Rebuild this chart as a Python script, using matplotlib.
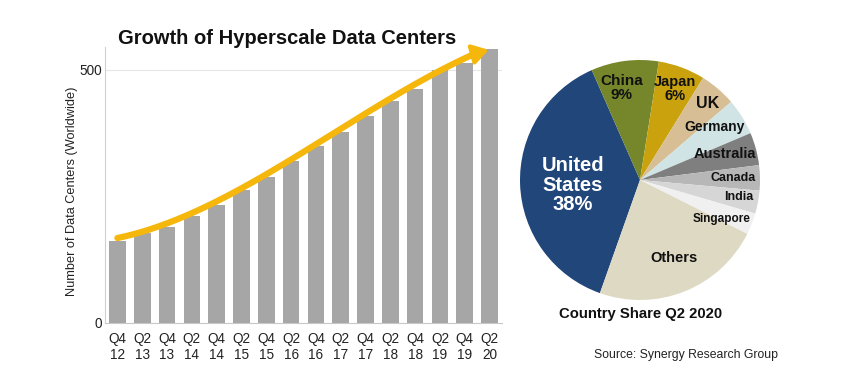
import numpy as np
import matplotlib
matplotlib.use("Agg")
import matplotlib.pyplot as plt

plt.rcParams['font.family'] = ['Liberation Sans', 'DejaVu Sans']

# ---- data ----
quarters = ["Q4\n12", "Q2\n13", "Q4\n13", "Q2\n14", "Q4\n14", "Q2\n15", "Q4\n15", "Q2\n16",
            "Q4\n16", "Q2\n17", "Q4\n17", "Q2\n18", "Q4\n18", "Q2\n19", "Q4\n19", "Q2\n20"]
dc_counts = [162, 177, 190, 212, 233, 262, 288, 319, 349, 378, 409, 439, 462, 500, 514, 541]

countries = ["United\nStates\n38%", "China\n9%", "Japan\n6%", "UK", "Germany", "Australia",
             "Canada", "India", "Singapore", "Others"]
shares = [38.0, 9.1, 6.3, 4.9, 4.9, 4.4, 3.4, 3.1, 2.9, 23.0]

colors = ["#21467A", "#76862A", "#C9A20E", "#D7BE95", "#D0E4E6", "#7F7F7F",
          "#B7B7B7", "#D6D6D6", "#F0F0F0", "#DDD9C3"]
label_colors = ["white"] + ["#111111"] * 9
label_sizes = [14.5, 11, 10.5, 11.5, 10, 10.5, 9, 9, 8.5, 10.5]
label_pos = [(-0.558, -0.042), (-0.153, 0.767), (0.29, 0.76), (0.561, 0.639), (0.622, 0.439),
             (0.708, 0.214), (0.772, 0.019), (0.819, -0.144), (0.681, -0.328), (0.283, -0.653)]

W, H = 848, 390
fig = plt.figure(figsize=(W / 100, H / 100), dpi=100)

# ---- bar chart ----
ax = fig.add_axes([105 / W, 1 - 322.7 / H, (502 - 105) / W, (322.7 - 46.7) / H])
x = np.arange(len(dc_counts))
ax.bar(x, dc_counts, width=0.67, color="#A6A6A6", zorder=2)
ax.set_xlim(-0.5, len(dc_counts) - 0.5)
ax.set_ylim(0, 546)
ax.set_yticks([0, 500])
ax.set_xticks(x)
ax.set_xticklabels(quarters, fontsize=9.8, color="#222222", linespacing=1.15)
ax.tick_params(axis='both', length=0, colors="#222222", labelsize=9.8)
ax.tick_params(axis='x', pad=7)
ax.tick_params(axis='y', pad=2)
ax.axhline(500, color="#E6E6E6", lw=0.8, zorder=1)
for s in ["top", "right"]:
    ax.spines[s].set_visible(False)
ax.spines["left"].set_color("#D0D0D0")
ax.spines["bottom"].set_color("#C8C8C8")
ax.set_ylabel("Number of Data Centers (Worldwide)", fontsize=9.2, color="#222222")
ax.yaxis.set_label_coords((78 - 105) / 397, (322.7 - 191) / 276)

# trend arrow from a smooth fit of the data
coef = np.polyfit(x, dc_counts, 3)
off = 5
xs = np.linspace(0, 14.5, 200)
ys = np.polyval(coef, xs) + off
ax.plot(xs, ys, color="#F5B70C", lw=4.5, solid_capstyle="round", zorder=3, clip_on=False)
x_end = 14.96
ax.annotate("", xy=(x_end, np.polyval(coef, x_end) + off - 4),
            xytext=(14.4, np.polyval(coef, 14.4) + off),
            arrowprops=dict(arrowstyle="-|>,head_length=0.95,head_width=0.6", color="#F5B70C",
                            lw=3, shrinkA=0, shrinkB=0),
            zorder=3, annotation_clip=False)

fig.text(287 / W, 1 - 39 / H, "Growth of Hyperscale Data Centers", ha="center", va="center",
         fontsize=14.5, fontweight="bold", color="#111111")

# ---- pie chart ----
pax = fig.add_axes([520 / W, 1 - 300 / H, 240 / W, 240 / H])
wedges, _ = pax.pie(shares, colors=colors, startangle=250.5, counterclock=False,
                    wedgeprops=dict(linewidth=0))
pax.set_xlim(-1, 1)
pax.set_ylim(-1, 1)
pax.set_aspect('auto')
for lab, c, fs, (px, py) in zip(countries, label_colors, label_sizes, label_pos):
    pax.text(px, py, lab, ha="center", va="center", fontsize=fs,
             fontweight="bold", color=c, linespacing=1.05)

fig.text(641 / W, 1 - 314 / H, "Country Share Q2 2020", ha="center", va="center",
         fontsize=10.7, fontweight="bold", color="#111111")
fig.text(686 / W, 1 - 355 / H, "Source: Synergy Research Group", ha="center", va="center",
         fontsize=8.8, color="#222222")

fig.savefig("out.png", dpi=100)
